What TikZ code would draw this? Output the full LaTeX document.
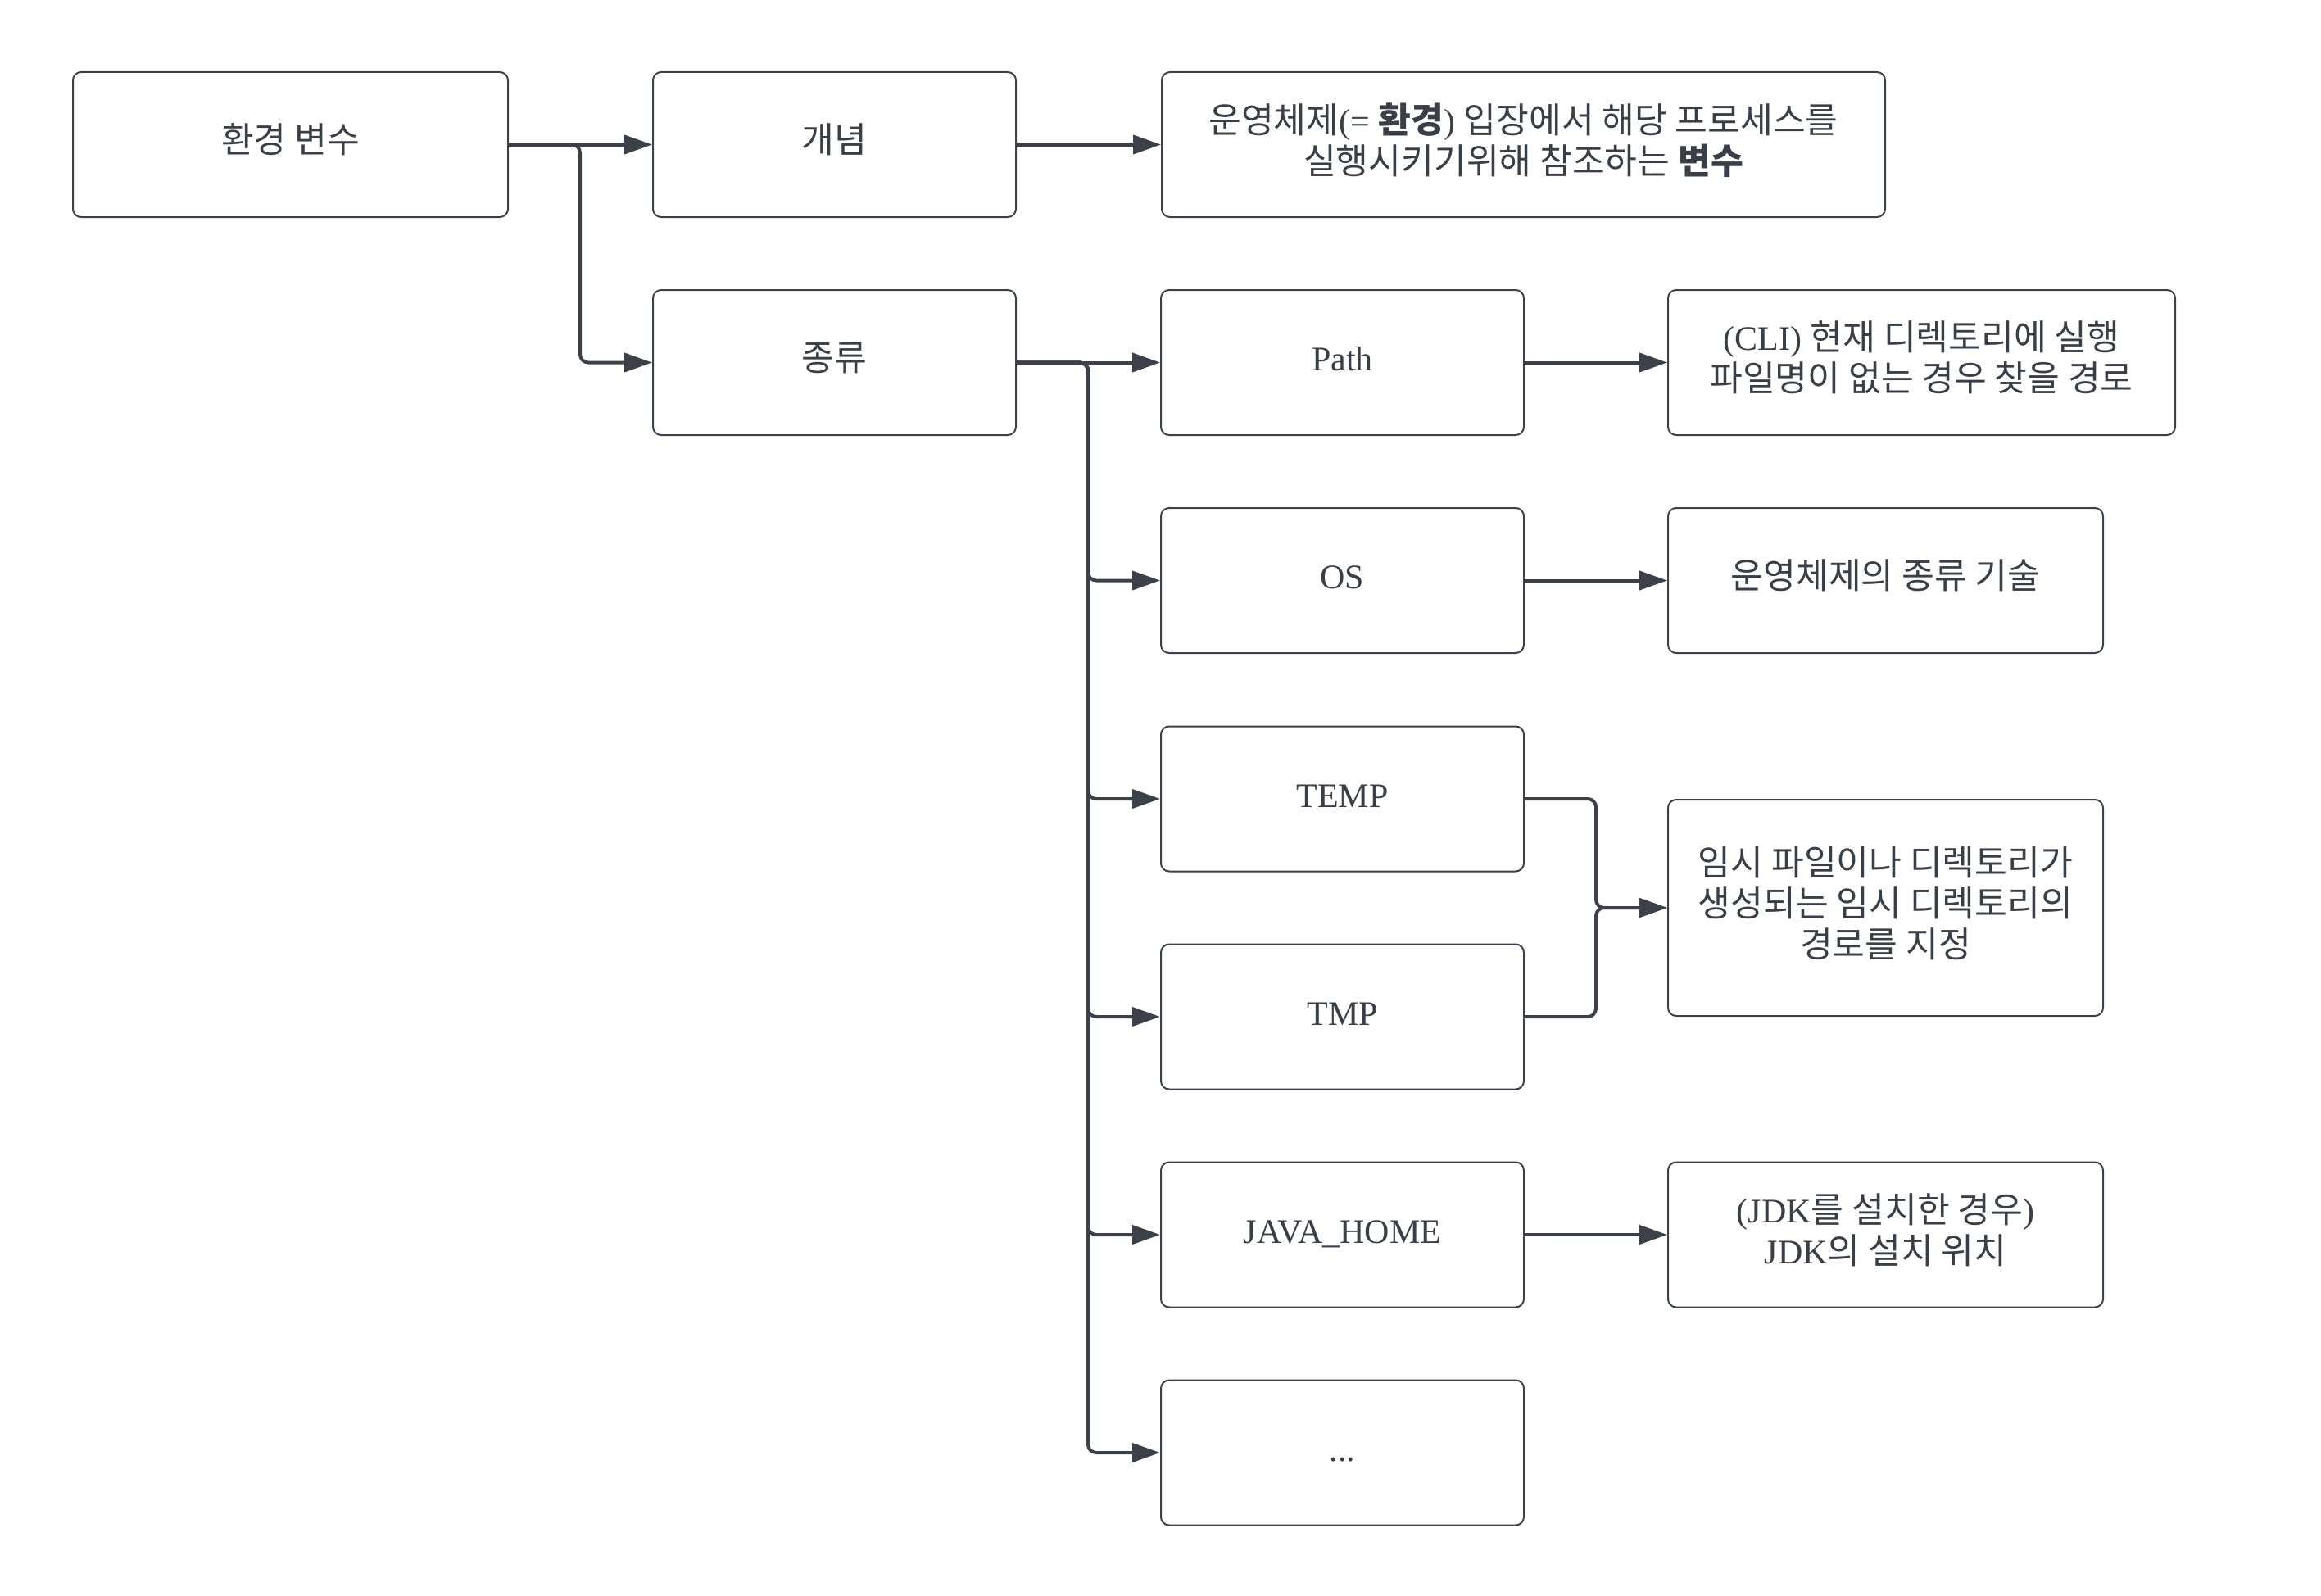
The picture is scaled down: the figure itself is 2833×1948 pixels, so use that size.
\documentclass[tikz,border=0pt]{standalone}
\usepackage{fontspec}
\setmainfont{Liberation Serif}
\newfontfamily\kr{Noto Sans CJK KR}[Scale=1.03]
\usetikzlibrary{arrows.meta}
\definecolor{lc}{RGB}{59,64,73}
\definecolor{tc}{RGB}{58,63,71}
\tikzset{
  box/.style={draw=lc, line width=2pt, rounded corners=10pt, fill=white, align=center,
    inner sep=0pt, text=tc, font=\fontsize{42}{50}\selectfont,
    execute at begin node={\strut}, execute at end node={\strut}},
  conn/.style={draw=lc, line width=4pt, rounded corners=10pt,
    -{Triangle[length=34pt,width=23pt]}}
}
\begin{document}
\begin{tikzpicture}[x=1pt,y=-1pt]
\useasboundingbox[fill=white] (0,0) rectangle (2833,1948);
% column 0/1
\node[box, minimum width=531pt, minimum height=177pt] (root) at (354.5,176.5) {{\kr 환경 변수}};
\node[box, minimum width=443pt, minimum height=177pt] (gae) at (1018.5,176.5) {{\kr 개념}};
\node[box, minimum width=443pt, minimum height=177pt] (jong) at (1018.5,442.5) {{\kr 종류}};
% concept description
\node[box, minimum width=883pt, minimum height=177pt] (cdesc) at (1859.5,176.5)
  {{\kr 운영체제}(= {\kr\bfseries 환경}) {\kr 입장에서 해당 프로세스를}\\{\kr 실행시키기위해 참조하는 {\bfseries 변수}}};
% column 2
\node[box, minimum width=443pt, minimum height=177pt] (path) at (1638.5,442.5) {Path};
\node[box, minimum width=443pt, minimum height=177pt] (os) at (1638.5,708.5) {OS};
\node[box, minimum width=443pt, minimum height=177pt] (temp) at (1638.5,975) {TEMP};
\node[box, minimum width=443pt, minimum height=177pt] (tmp) at (1638.5,1241) {TMP};
\node[box, minimum width=443pt, minimum height=177pt] (java) at (1638.5,1507) {JAVA\_HOME};
\node[box, minimum width=443pt, minimum height=177pt] (etc) at (1638.5,1773) {...};
% column 3
\node[box, minimum width=619pt, minimum height=177pt] (pdesc) at (2345.5,442.5)
  {(CLI) {\kr 현재 디렉토리에 실행}\\{\kr 파일명이 없는 경우 찾을 경로}};
\node[box, minimum width=531pt, minimum height=177pt] (odesc) at (2301.5,708.5)
  {{\kr 운영체제의 종류 기술}};
\node[box, minimum width=531pt, minimum height=264pt] (tdesc) at (2301.5,1108)
  {{\kr 임시 파일이나 디렉토리가}\\{\kr 생성되는 임시 디렉토리의}\\{\kr 경로를 지정}};
\node[box, minimum width=531pt, minimum height=177pt] (jdesc) at (2301.5,1507)
  {({JDK}{\kr 를 설치한 경우})\\JDK{\kr 의 설치 위치}};
% junction columns
\coordinate (j1) at (708,0);
\coordinate (j2) at (1328,0);
\coordinate (j3) at (1948,0);
% connectors
\draw[conn] (root.east) -- (gae.west);
\draw[conn] (root.east) -- (root.east -| j1) |- (jong.west);
\draw[conn] (gae.east) -- (cdesc.west);
\draw[conn] (jong.east) -- (path.west);
\draw[conn] (jong.east) -- (jong.east -| j2) |- (os.west);
\draw[conn] (jong.east) -- (jong.east -| j2) |- (temp.west);
\draw[conn] (jong.east) -- (jong.east -| j2) |- (tmp.west);
\draw[conn] (jong.east) -- (jong.east -| j2) |- (java.west);
\draw[conn] (jong.east) -- (jong.east -| j2) |- (etc.west);
\draw[conn] (path.east) -- (pdesc.west);
\draw[conn] (os.east) -- (odesc.west);
\draw[conn] (temp.east) -- (temp.east -| j3) |- (tdesc.west);
\draw[conn] (tmp.east) -- (tmp.east -| j3) |- (tdesc.west);
\draw[conn] (java.east) -- (jdesc.west);
\end{tikzpicture}
\end{document}
